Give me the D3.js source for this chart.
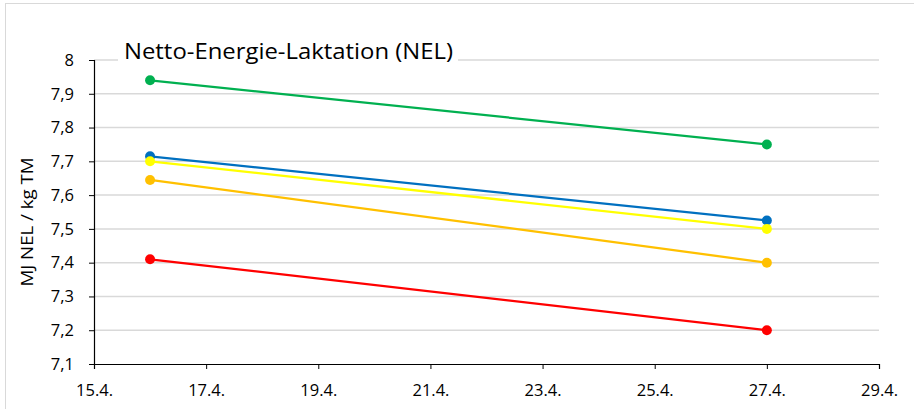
<!DOCTYPE html>
<html><head><meta charset="utf-8">
<script src="https://cdn.jsdelivr.net/npm/d3@7"></script>
<style>body{margin:0;background:#fff;}svg{display:block;}</style>
</head><body>
<svg id="c" width="914" height="409"></svg>
<script>
const dates = ["2024-04-16", "2024-04-27"];
const seriesNames = ["grün", "blau", "gelb", "orange", "rot"];
const seriesColors = ["#00B050", "#0070C0", "#FFFF00", "#FFC000", "#FF0000"];
const valuesGreen = [7.94, 7.75];
const valuesBlue = [7.715, 7.525];
const valuesYellow = [7.70, 7.50];
const valuesOrange = [7.645, 7.40];
const valuesRed = [7.41, 7.20];
const yTicks = [7.1, 7.2, 7.3, 7.4, 7.5, 7.6, 7.7, 7.8, 7.9, 8];
const xTickDates = ["2024-04-15","2024-04-17","2024-04-19","2024-04-21","2024-04-23","2024-04-25","2024-04-27","2024-04-29"];
const title = "Netto-Energie-Laktation (NEL)";
const yLabel = "MJ NEL / kg TM";

const parse = d3.timeParse("%Y-%m-%d");
const allSeries = [valuesGreen, valuesBlue, valuesYellow, valuesOrange, valuesRed];

const svg = d3.select("#c");
// chart border
svg.append("rect").attr("x",5.5).attr("y",3.5).attr("width",930).attr("height",420)
  .attr("fill","none").attr("stroke","#D9D9D9").attr("stroke-width",1);

const L = 94, R = 879, T = 60, B = 364;
const x = d3.scaleTime().domain([parse("2024-04-15"), parse("2024-04-29")]).range([L, R]);
const y = d3.scaleLinear().domain([7.1, 8]).range([B, T]);

// gridlines
svg.append("g").selectAll("line").data(yTicks.filter(v=>v>7.1)).join("line")
  .attr("x1",L).attr("x2",R).attr("y1",d=>y(d)).attr("y2",d=>y(d))
  .attr("stroke","#D9D9D9").attr("stroke-width",1.5);

const tickFont = "'Open Sans',sans-serif";
const fmt = d => String(d).replace(".", ",");
const yAxis = d3.axisLeft(y).tickValues(yTicks).tickFormat(fmt).tickSize(5).tickPadding(15);
const gy = svg.append("g").attr("transform",`translate(${L},0)`).call(yAxis);
gy.select(".domain").attr("stroke","#000").attr("stroke-width",1.2);
gy.selectAll(".tick line").attr("stroke","#000");
gy.selectAll("text").attr("font-family",tickFont).attr("font-size",16.5).attr("fill","#000");

const xAxis = d3.axisBottom(x).tickValues(xTickDates.map(parse)).tickFormat(d3.timeFormat("%-d.%-m.")).tickSize(5).tickPadding(15);
const gx = svg.append("g").attr("transform",`translate(0,${B})`).call(xAxis);
gx.select(".domain").attr("stroke","#000").attr("stroke-width",1.2);
gx.selectAll(".tick line").attr("stroke","#000");
gx.selectAll("text").attr("font-family",tickFont).attr("font-size",16.5).attr("fill","#000");

// lines
const line = d3.line().x((d,i)=>x(parse(dates[i]))).y(d=>y(d));
allSeries.forEach((vals,k)=>{
  const g = svg.append("g");
  g.append("path").datum(vals).attr("d",line).attr("fill","none")
    .attr("stroke",seriesColors[k]).attr("stroke-width",2.25);
  g.selectAll("circle").data(vals).join("circle")
    .attr("cx",(d,i)=>x(parse(dates[i]))).attr("cy",d=>y(d)).attr("r",5)
    .attr("fill",seriesColors[k]);
});

// title with white background
svg.append("rect").attr("x",118).attr("y",36).attr("width",340).attr("height",32).attr("fill","#fff");
svg.append("text").attr("x",124).attr("y",59).attr("font-family","'Open Sans',sans-serif")
  .attr("font-size",21).attr("fill","#000").attr("textLength",329).attr("lengthAdjust","spacingAndGlyphs").text(title);

// y label
svg.append("text").attr("transform",`translate(33,222) rotate(-90)`).attr("text-anchor","middle")
  .attr("font-family","'Open Sans',sans-serif").attr("font-size",16).attr("fill","#000")
  .attr("textLength",129).attr("lengthAdjust","spacingAndGlyphs").text(yLabel);
</script>
</body></html>
